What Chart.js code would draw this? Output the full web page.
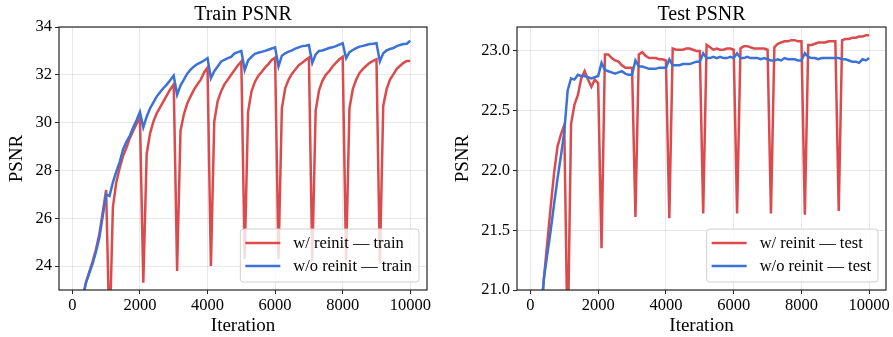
<!DOCTYPE html>
<html>
<head>
<meta charset="utf-8">
<script src="https://cdn.jsdelivr.net/npm/chart.js@4.4.1/dist/chart.umd.min.js"></script>
<style>
  html, body { margin: 0; padding: 0; background: #fff; }
  #wrap { position: relative; width: 893px; height: 337px; }
  canvas { position: absolute; top: 0; }
</style>
</head>
<body>
<div id="wrap">
  <canvas id="trainChart" width="446" height="337" style="left:0px"></canvas>
  <canvas id="testChart" width="447" height="337" style="left:446px"></canvas>
</div>
<script>
// iterations (x), one point every 100 its
const iterations = [
  100, 200, 300, 400, 500, 600, 700, 800, 900, 1000,
  1100, 1200, 1300, 1400, 1500, 1600, 1700, 1800, 1900, 2000,
  2100, 2200, 2300, 2400, 2500, 2600, 2700, 2800, 2900, 3000,
  3100, 3200, 3300, 3400, 3500, 3600, 3700, 3800, 3900, 4000,
  4100, 4200, 4300, 4400, 4500, 4600, 4700, 4800, 4900, 5000,
  5100, 5200, 5300, 5400, 5500, 5600, 5700, 5800, 5900, 6000,
  6100, 6200, 6300, 6400, 6500, 6600, 6700, 6800, 6900, 7000,
  7100, 7200, 7300, 7400, 7500, 7600, 7700, 7800, 7900, 8000,
  8100, 8200, 8300, 8400, 8500, 8600, 8700, 8800, 8900, 9000,
  9100, 9200, 9300, 9400, 9500, 9600, 9700, 9800, 9900, 10000
];

const trainReinit = [
  20.6, 21.7, 22.6, 23.3, 23.75, 24.2, 24.7, 25.35, 26.25, 27.18,
  21.0, 26.47, 27.5, 28.1, 28.6, 28.95, 29.35, 29.65, 29.95, 30.2,
  23.3, 28.7, 29.55, 30.05, 30.4, 30.65, 30.9, 31.15, 31.4, 31.6,
  23.8, 29.65, 30.35, 30.8, 31.1, 31.38, 31.6, 31.8, 32.1, 32.3,
  24.0, 30.05, 30.9, 31.3, 31.6, 31.8, 32.0, 32.2, 32.4, 32.56,
  24.3, 30.45, 31.3, 31.7, 31.95, 32.12, 32.3, 32.45, 32.62, 32.72,
  24.3, 30.6, 31.45, 31.8, 32.05, 32.22, 32.4, 32.5, 32.62, 32.72,
  24.2, 30.5, 31.35, 31.75, 32.0, 32.15, 32.35, 32.5, 32.65, 32.75,
  24.2, 30.6, 31.4, 31.8, 32.08, 32.25, 32.38, 32.5, 32.58, 32.65,
  24.1, 30.7, 31.4, 31.8, 32.02, 32.25, 32.38, 32.5, 32.58, 32.58
];

const trainNoReinit = [
  20.6, 21.7, 22.6, 23.3, 23.7, 24.1, 24.6, 25.2, 26.1, 27.0,
  26.93, 27.5, 27.95, 28.35, 28.88, 29.2, 29.45, 29.8, 30.1, 30.45,
  29.8, 30.25, 30.6, 30.85, 31.1, 31.28, 31.45, 31.6, 31.78, 31.97,
  31.17, 31.55, 31.8, 32.05, 32.22, 32.35, 32.45, 32.52, 32.6, 32.7,
  31.86, 32.15, 32.35, 32.55, 32.63, 32.7, 32.75, 32.9, 32.95, 33.0,
  32.2, 32.6, 32.75, 32.88, 32.92, 32.96, 33.0, 33.05, 33.1, 33.15,
  32.35, 32.8, 32.9, 32.97, 33.02, 33.1, 33.15, 33.2, 33.22, 33.25,
  32.49, 32.85, 33.0, 33.02, 33.07, 33.12, 33.15, 33.2, 33.26, 33.32,
  32.69, 32.95, 33.04, 33.12, 33.18, 33.21, 33.25, 33.29, 33.3, 33.32,
  32.56, 32.9, 33.02, 33.08, 33.12, 33.2, 33.25, 33.29, 33.3, 33.43
];

const testReinit = [
  19.6, 20.2, 20.75, 21.1, 21.4, 21.7, 21.98, 22.2, 22.3, 22.38,
  20.5, 22.39, 22.55, 22.63, 22.77, 22.83, 22.76, 22.7, 22.76, 22.73,
  21.35, 22.97, 22.97, 22.94, 22.92, 22.91, 22.88, 22.86, 22.86, 22.86,
  21.61, 22.97, 22.99, 22.96, 22.94, 22.94, 22.94, 22.93, 22.93, 22.92,
  21.6, 23.02, 23.01, 23.01, 23.01, 23.02, 23.02, 23.01, 23.0, 23.0,
  21.64, 23.05, 23.03, 23.01, 23.02, 23.01, 23.01, 23.02, 23.02, 23.01,
  21.64, 23.02, 23.04, 23.04, 23.03, 23.02, 23.02, 23.02, 23.02, 23.01,
  21.64, 23.03, 23.06, 23.07, 23.08, 23.08, 23.09, 23.09, 23.08, 23.08,
  21.63, 23.05, 23.05, 23.06, 23.07, 23.07, 23.07, 23.08, 23.08, 23.08,
  21.66, 23.09, 23.1, 23.1, 23.11, 23.11, 23.12, 23.12, 23.13, 23.13
];

const testNoReinit = [
  19.6, 20.2, 20.75, 21.1, 21.3, 21.5, 21.72, 21.93, 22.12, 22.32,
  22.67, 22.77, 22.76, 22.8, 22.79, 22.79, 22.78, 22.77, 22.78, 22.79,
  22.9, 22.84, 22.83, 22.82, 22.81, 22.82, 22.83, 22.81, 22.8, 22.8,
  22.92, 22.87, 22.87, 22.86, 22.85, 22.85, 22.85, 22.86, 22.86, 22.86,
  22.93, 22.88, 22.88, 22.88, 22.89, 22.89, 22.89, 22.9, 22.91, 22.91,
  22.98, 22.94, 22.94, 22.95, 22.94, 22.95, 22.94, 22.94, 22.95, 22.94,
  22.98, 22.94, 22.94, 22.95, 22.94, 22.94, 22.94, 22.93, 22.94, 22.93,
  22.92, 22.92, 22.93, 22.92, 22.94, 22.93, 22.93, 22.93, 22.92, 22.92,
  22.98, 22.95, 22.94, 22.94, 22.93, 22.94, 22.94, 22.94, 22.94, 22.94,
  22.94, 22.93, 22.93, 22.92, 22.91, 22.91, 22.9, 22.93, 22.92, 22.94
];

const xTicks = [0, 2000, 4000, 6000, 8000, 10000];
const trainYTicks = [24, 26, 28, 30, 32, 34];
const testYTicks = [21.0, 21.5, 22.0, 22.5, 23.0];

const trainLabels = ['w/ reinit \u2014 train', 'w/o reinit \u2014 train'];
const testLabels = ['w/ reinit \u2014 test', 'w/o reinit \u2014 test'];

const RED = '#db4b4d';
const BLUE = '#3c72d6';
const FONT = "'Liberation Serif', 'Times New Roman', serif";

// title, frame and the legend box (matplotlib style)
const framePlugin = {
    id: 'frame',
    afterDatasetsDraw(chart, args, opts) {
        const ctx = chart.ctx;
        const area = chart.chartArea;
        const sets = chart.data.datasets;

        ctx.save();
        ctx.font = '16.5px ' + FONT;
        let textW = 0;
        sets.forEach(ds => { textW = Math.max(textW, ctx.measureText(ds.label).width); });
        const boxW = 5 + 35 + 13 + textW + 7;
        const boxH = 53;
        const bx = area.right - 8 - boxW;
        const by = area.bottom - 8 - boxH;

        ctx.beginPath();
        ctx.roundRect(bx, by, boxW, boxH, 3);
        ctx.fillStyle = 'rgba(255,255,255,0.8)';
        ctx.fill();
        ctx.strokeStyle = '#d0d0d0';
        ctx.lineWidth = 1;
        ctx.stroke();

        sets.forEach((ds, i) => {
            const rowY = by + 14 + i * 23;
            ctx.beginPath();
            ctx.moveTo(bx + 5, rowY);
            ctx.lineTo(bx + 40, rowY);
            ctx.strokeStyle = ds.borderColor;
            ctx.lineWidth = ds.borderWidth;
            ctx.stroke();
            ctx.fillStyle = '#000';
            ctx.textBaseline = 'middle';
            ctx.textAlign = 'left';
            ctx.fillText(ds.label, bx + 53, rowY + 1);
        });
        ctx.restore();
    },
    afterDraw(chart, args, opts) {
        const ctx = chart.ctx;
        const area = chart.chartArea;
        ctx.save();
        ctx.strokeStyle = '#262626';
        ctx.lineWidth = 1.2;
        ctx.strokeRect(area.left, area.top, area.right - area.left, area.bottom - area.top);

        ctx.fillStyle = '#000';
        ctx.font = '20px ' + FONT;
        ctx.textAlign = 'center';
        ctx.textBaseline = 'alphabetic';
        ctx.fillText(opts.title, (area.left + area.right) / 2, 19.5);
        ctx.restore();
    }
};

function buildDataset(label, values, color, order) {
    return {
        label: label,
        data: values.map((v, i) => ({ x: iterations[i], y: v })),
        borderColor: color,
        backgroundColor: color,
        borderWidth: 2.5,
        pointRadius: 0,
        tension: 0,
        order: order
    };
}

function crearGrafico(canvasId, cfg) {
    const ctx = document.getElementById(canvasId).getContext('2d');
    return new Chart(ctx, {
        type: 'line',
        data: {
            datasets: [
                buildDataset(cfg.labels[0], cfg.reinit, RED, 1),
                buildDataset(cfg.labels[1], cfg.noReinit, BLUE, 0)
            ]
        },
        options: {
            responsive: false,
            animation: false,
            devicePixelRatio: 1,
            layout: { padding: { top: 27, right: cfg.padRight, bottom: 0, left: 0 } },
            plugins: {
                legend: { display: false },
                tooltip: { enabled: false },
                frame: { title: cfg.title }
            },
            scales: {
                x: {
                    type: 'linear',
                    min: -395,
                    max: 10495,
                    afterBuildTicks: s => { s.ticks = xTicks.map(v => ({ value: v })); },
                    afterFit: s => { s.height = 47; },
                    grid: { color: 'rgba(0,0,0,0.09)', tickColor: '#262626', tickLength: 4 },
                    border: { display: false },
                    ticks: {
                        color: '#000', font: { family: FONT, size: 16.5 }, padding: 2,
                        maxRotation: 0, autoSkip: false,
                        callback: v => String(v)
                    },
                    title: {
                        display: true, text: 'Iteration', color: '#000',
                        font: { family: FONT, size: 19 }, padding: { top: 0, bottom: 0 }
                    }
                },
                y: {
                    min: cfg.yMin,
                    max: cfg.yMax,
                    afterBuildTicks: s => { s.ticks = cfg.yTicks.map(v => ({ value: v })); },
                    afterFit: s => { s.width = cfg.yWidth; },
                    grid: { color: 'rgba(0,0,0,0.09)', tickColor: '#262626', tickLength: 4 },
                    border: { display: false },
                    ticks: {
                        color: '#000', font: { family: FONT, size: 16.5 }, padding: 3,
                        callback: v => cfg.yDecimals ? v.toFixed(cfg.yDecimals) : String(v)
                    },
                    title: {
                        display: true, text: 'PSNR', color: '#000',
                        font: { family: FONT, size: 19 }, padding: { top: 6, bottom: 0 }
                    }
                }
            }
        },
        plugins: [framePlugin]
    });
}

document.addEventListener('DOMContentLoaded', function () {
    crearGrafico('trainChart', {
        title: 'Train PSNR',
        labels: trainLabels,
        reinit: trainReinit,
        noReinit: trainNoReinit,
        yMin: 23, yMax: 34, yTicks: trainYTicks, yDecimals: 0,
        yWidth: 59, padRight: 19
    });
    crearGrafico('testChart', {
        title: 'Test PSNR',
        labels: testLabels,
        reinit: testReinit,
        noReinit: testNoReinit,
        yMin: 21.0, yMax: 23.2, yTicks: testYTicks, yDecimals: 1,
        yWidth: 71, padRight: 7
    });
});
</script>
</body>
</html>
